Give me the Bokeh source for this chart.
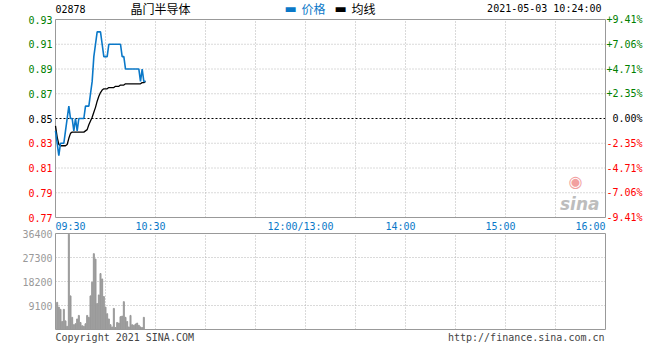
from bokeh.plotting import figure
from bokeh.models import Range1d
from bokeh.core.properties import value
from bokeh.embed import file_html
from bokeh.resources import INLINE

# ---- data (minutes after 09:30) ----
minutes = list(range(55))
price = [0.84, 0.83, 0.82, 0.83, 0.83, 0.83, 0.84, 0.85, 0.86, 0.85,
         0.85, 0.84, 0.85, 0.84, 0.85, 0.85, 0.85, 0.85, 0.86, 0.86,
         0.86, 0.87, 0.88, 0.90, 0.91, 0.92, 0.92, 0.92, 0.91, 0.90,
         0.90, 0.90, 0.91, 0.91, 0.91, 0.91, 0.91, 0.91, 0.91, 0.91,
         0.90, 0.90, 0.89, 0.89, 0.89, 0.89, 0.89, 0.89, 0.89, 0.89,
         0.89, 0.88, 0.89, 0.88, 0.88]
avg = [0.844, 0.835, 0.829, 0.828, 0.828, 0.828, 0.828, 0.829, 0.834, 0.838,
       0.839, 0.839, 0.839, 0.839, 0.839, 0.839, 0.839, 0.839, 0.840, 0.841,
       0.845, 0.848, 0.851, 0.855, 0.859, 0.864, 0.868, 0.871, 0.873, 0.874,
       0.874, 0.874, 0.875, 0.875, 0.875, 0.875, 0.876, 0.876, 0.876, 0.877,
       0.877, 0.877, 0.878, 0.878, 0.878, 0.878, 0.878, 0.878, 0.878, 0.878,
       0.878, 0.878, 0.879, 0.879, 0.880]
vol_minutes = list(range(1, 54))
volume = [10300, 8500, 7640, 3030, 7640, 3270, 1210, 36100, 12740, 4610,
          1820, 2180, 4000, 5340, 2670, 1460, 1210, 2180, 5340, 4610,
          12740, 17960, 28760, 26700, 9830, 13100, 21230, 19170, 12500, 8500,
          6000, 4000, 1820, 970, 8000, 730, 2670, 2430, 4850, 5100,
          10560, 4610, 3030, 970, 5340, 1820, 1580, 2060, 2430, 1580,
          970, 730, 4610]

prev_close = 0.85
t_start, t_end = 0, 330          # 09:30 .. 16:00 (lunch removed), in minutes
p_min, p_max = 0.77, 0.93
v_max = 36400
price_ticks = [0.93, 0.91, 0.89, 0.87, 0.85, 0.83, 0.81, 0.79, 0.77]
price_labels = ["0.93", "0.91", "0.89", "0.87", "0.85", "0.83", "0.81", "0.79", "0.77"]
pct_labels = ["+9.41%", "+7.06%", "+4.71%", "+2.35%", "0.00%", "-2.35%", "-4.71%", "-7.06%", "-9.41%"]
label_colors = ["#008000"] * 4 + ["#000000"] + ["#ff0000"] * 4
price_grid = [0.91, 0.89, 0.87, 0.83, 0.81, 0.79]
time_grid = [30, 60, 90, 120, 150, 180, 210, 240, 270, 300]
time_mid_ticks = [60, 150, 210, 270]
time_mid_labels = ["10:30", "12:00/13:00", "14:00", "15:00"]
vol_ticks = [36400, 27300, 18200, 9100]
vol_labels = ["36400", "27300", "18200", "9100"]
vol_grid = [9100, 18200, 27300]

# ---- layout (pixels) ----
W, H = 644, 344
PX_L, PX_R = 55, 605
P_TOP, P_BOT = 19, 217
V_TOP, V_BOT = 233, 329

mpp = (t_end - t_start) / (PX_R - PX_L)
x0 = t_start - PX_L * mpp
x1 = t_start + (W - PX_L) * mpp
ppp = (p_max - p_min) / (P_BOT - P_TOP)
y_top = p_max + P_TOP * ppp
y_bot = p_min - (H - P_BOT) * ppp
vpp = v_max / (V_BOT - V_TOP)
vy_top = v_max + V_TOP * vpp
vy_bot = 0 - (H - V_BOT) * vpp

MONO = "DejaVu Sans Mono"
CJK = "Noto Sans CJK SC"
BLUE = "#0a78c8"
GRID = "#b4b4b4"
FRAME = "#999999"

p = figure(width=W, height=H, x_range=Range1d(x0, x1), y_range=Range1d(y_bot, y_top),
           x_axis_location=None, y_axis_location=None, toolbar_location=None,
           output_backend="svg", min_border=0, min_border_left=0, min_border_right=0,
           min_border_top=0, min_border_bottom=0, outline_line_color=None)
p.extra_y_ranges = {"vol": Range1d(vy_bot, vy_top)}
for g in p.grid:
    g.visible = False

# ---- price panel ----
n = len(time_grid)
p.segment(x0=time_grid, y0=[p_min] * n, x1=time_grid, y1=[p_max] * n,
          line_color=GRID, line_dash="1 2", line_width=1)
m = len(price_grid)
p.segment(x0=[t_start] * m, y0=price_grid, x1=[t_end] * m, y1=price_grid,
          line_color=GRID, line_dash="1 2", line_width=1)
p.segment(x0=[t_start], y0=[prev_close], x1=[t_end], y1=[prev_close],
          line_color="black", line_dash="2 2", line_width=1)
p.quad(left=[t_start], right=[t_end], bottom=[p_min], top=[p_max],
       fill_color=None, line_color=FRAME, line_width=1)

# watermark
p.text(x=[t_end], y=[p_min], text=["◉"], text_color="#f2a0a0", text_font=value("DejaVu Sans"),
       text_font_size="16px", text_align="center", text_baseline="middle",
       x_offset=-30, y_offset=-36)
p.text(x=[t_end], y=[p_min], text=["sina"], text_color="#bdbdbd", text_font=value("DejaVu Sans"),
       text_font_size="17px", text_font_style="bold italic", text_align="right",
       text_baseline="alphabetic", x_offset=-6, y_offset=-14)

p.line(minutes, avg, line_color="black", line_width=1.3)
p.line(minutes, price, line_color=BLUE, line_width=1.6)

k = len(price_ticks)
p.text(x=[t_start] * k, y=price_ticks, text=price_labels, text_color=label_colors,
       text_font=value(MONO), text_font_size="10px", text_align="right",
       text_baseline="alphabetic", x_offset=-3)
p.text(x=[t_end] * k, y=price_ticks, text=pct_labels, text_color=label_colors,
       text_font=value(MONO), text_font_size="10px", text_align="right",
       text_baseline="alphabetic", x_offset=37)

# time labels
p.text(x=[t_start], y=[p_min], text=["09:30"], text_color=BLUE, text_font=value(MONO),
       text_font_size="10px", text_align="left", text_baseline="top", y_offset=3)
p.text(x=time_mid_ticks, y=[p_min] * 4, text=time_mid_labels, text_color=BLUE,
       text_font=value(MONO), text_font_size="10px", text_align="center",
       text_baseline="top", x_offset=-5, y_offset=3)
p.text(x=[t_end], y=[p_min], text=["16:00"], text_color=BLUE, text_font=value(MONO),
       text_font_size="10px", text_align="right", text_baseline="top", y_offset=3)

# header
p.text(x=[t_start], y=[p_max], text=["02878"], text_color="black", text_font=value(MONO),
       text_font_size="10px", text_align="left", text_baseline="middle", y_offset=-11)
p.text(x=[t_start], y=[p_max], text=["晶门半导体"], text_color="black", text_font=value(CJK),
       text_font_size="12px", text_align="left", text_baseline="middle",
       x_offset=75, y_offset=-11)
p.text(x=[t_start], y=[p_max], text=["▬"], text_color=BLUE, text_font=value("DejaVu Sans"),
       text_font_size="13px", text_align="left", text_baseline="middle",
       x_offset=229, y_offset=-11)
p.text(x=[t_start], y=[p_max], text=["价格"], text_color=BLUE, text_font=value(CJK),
       text_font_size="12px", text_align="left", text_baseline="middle",
       x_offset=246, y_offset=-11)
p.text(x=[t_start], y=[p_max], text=["▬"], text_color="black", text_font=value("DejaVu Sans"),
       text_font_size="13px", text_align="left", text_baseline="middle",
       x_offset=279, y_offset=-11)
p.text(x=[t_start], y=[p_max], text=["均线"], text_color="black", text_font=value(CJK),
       text_font_size="12px", text_align="left", text_baseline="middle",
       x_offset=296, y_offset=-11)
p.text(x=[t_end], y=[p_max], text=["2021-05-03 10:24:00"], text_color="black",
       text_font=value(MONO), text_font_size="10px", text_align="right",
       text_baseline="middle", x_offset=-4, y_offset=-11)

# ---- volume panel ----
p.segment(x0=time_grid, y0=[0] * n, x1=time_grid, y1=[v_max] * n,
          line_color=GRID, line_dash="1 2", line_width=1, y_range_name="vol")
q = len(vol_grid)
p.segment(x0=[t_start] * q, y0=vol_grid, x1=[t_end] * q, y1=vol_grid,
          line_color=GRID, line_dash="1 2", line_width=1, y_range_name="vol")
p.vbar(x=vol_minutes, top=volume, bottom=0, width=0.6, color="#999999", y_range_name="vol")
p.quad(left=[t_start], right=[t_end], bottom=[0], top=[v_max],
       fill_color=None, line_color=FRAME, line_width=1, y_range_name="vol")

p.text(x=[t_start] * 4, y=vol_ticks, text=vol_labels, text_color="#999999",
       text_font=value(MONO), text_font_size="10px", text_align="right",
       text_baseline="alphabetic", x_offset=-3, y_range_name="vol")
p.text(x=[t_start], y=[0], text=["Copyright 2021 SINA.COM"], text_color="#444444",
       text_font=value(MONO), text_font_size="10px", text_align="left",
       text_baseline="top", y_offset=2, y_range_name="vol")
p.text(x=[t_end], y=[0], text=["http://finance.sina.com.cn"], text_color="#444444",
       text_font=value(MONO), text_font_size="10px", text_align="right",
       text_baseline="top", x_offset=-1, y_offset=2, y_range_name="vol")

open("out.html", "w").write(file_html(p, INLINE))
